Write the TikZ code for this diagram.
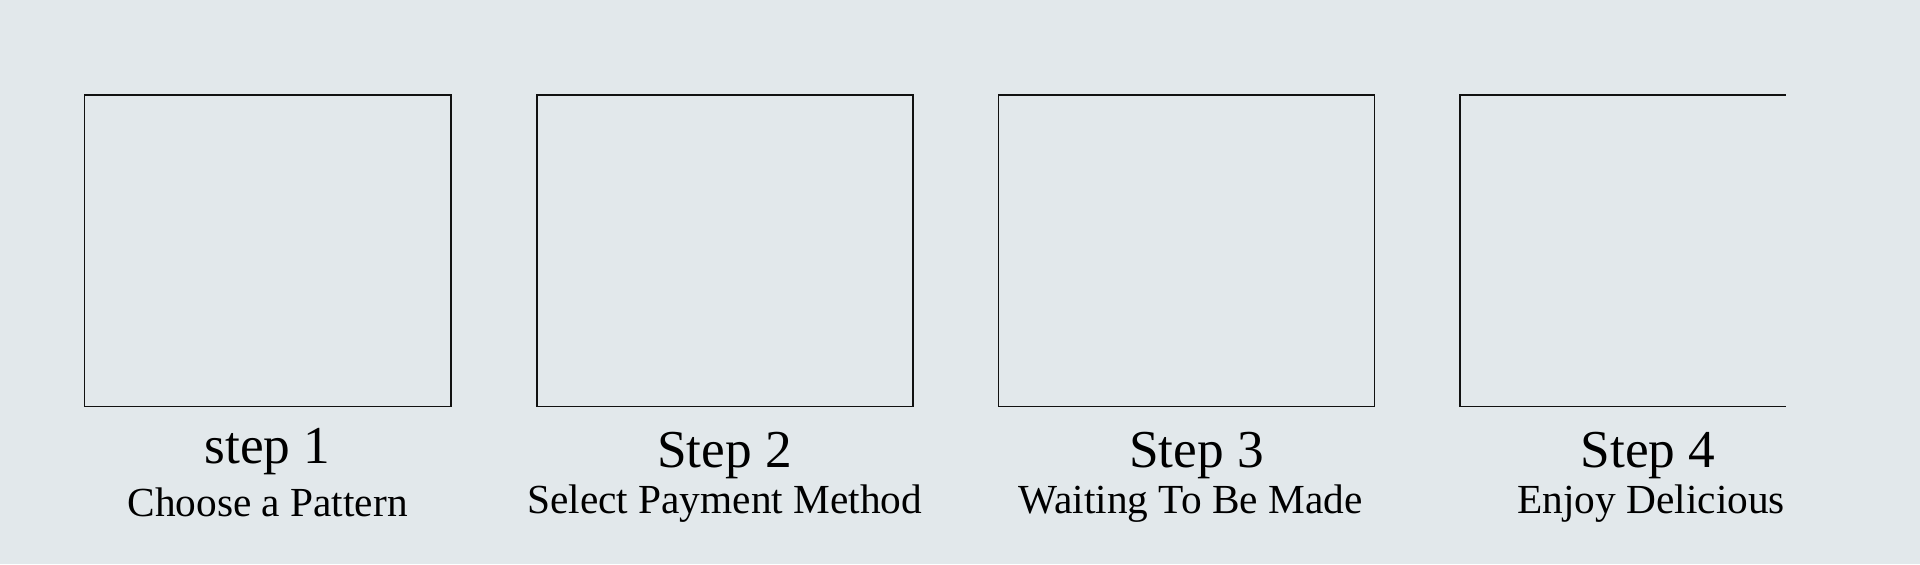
\documentclass[tikz,border=0pt]{standalone}
\usepackage{fontspec}
\setmainfont{Liberation Serif}
\usetikzlibrary{
  positioning, % For relative placement of the boxes
  calc % For label offsets
}
\definecolor{pagebg}{HTML}{E2E8EB}
\definecolor{frame}{HTML}{111111}

\begin{document}
\begin{tikzpicture}[
      x=0.75pt, y=-0.75pt, % pixel grid, y pointing down
      stepbox/.style={draw=frame, line width=1.2pt, minimum width=282pt,
        minimum height=233.7pt, inner sep=0pt, outer sep=0pt}, % Picture frame of a step
      steptitle/.style={anchor=base, font=\fontsize{40}{48}\selectfont}, % "Step n"
      stepinfo/.style={anchor=base, font=\fontsize{31}{37}\selectfont}, % What happens
      node distance=64.3pt,
    ]

    % Background and page size
    \useasboundingbox[fill=pagebg] (0,0) rectangle (1920,564);

    % The frames
    \node[stepbox, minimum width=275pt, anchor=north west] (box1) at (84.3,94.7) {};
    \node[stepbox, right=of box1] (box2) {};
    \node[stepbox, right=of box2] (box3) {};
    % last frame is cut off on the right
    \node[stepbox, draw=none, right=of box3] (box4) {};
    \coordinate (cut) at (1785.7,0);
    \draw[frame, line width=1.2pt] (box4.north west -| cut) -- (box4.north west)
      -- (box4.south west) -- (box4.south west -| cut);

    % Titles
    \node[steptitle] (title1) at ($(box1.south)+(0,56.7)$) {step 1};
    \node[steptitle] (title2) at ($(box2.south)+(0,61.2)$) {Step 2};
    \node[steptitle] (title3) at ($(box3.south)+(10,61.2)$) {Step 3};
    \node[steptitle] (title4) at ($(box4.south)+(0,61.2)$) {Step 4};

    % Descriptions
    \node[stepinfo] (info1) at ($(title1.base)+(0,53.7)$) {Choose a Pattern};
    \node[stepinfo] (info2) at ($(title2.base)+(0,45.8)$) {Select Payment Method};
    \node[stepinfo] (info3) at ($(title3.base)+(-6,45.8)$) {Waiting To Be Made};
    \node[stepinfo] (info4) at ($(title4.base)+(3,45.8)$) {Enjoy Delicious};

  \end{tikzpicture}
\end{document}
